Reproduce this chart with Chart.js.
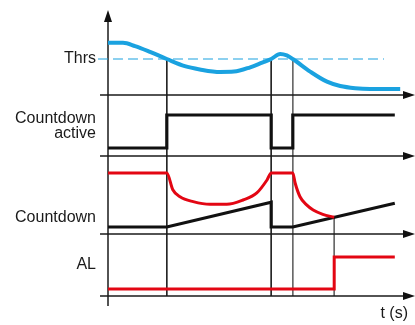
<!DOCTYPE html>
<html>
<head>
<meta charset="utf-8">
<script src="https://cdn.jsdelivr.net/npm/chart.js@4.4.0/dist/chart.umd.min.js"></script>
<style>
    html, body { margin: 0; padding: 0; background: #fff; }
    canvas { display: block; }
</style>
</head>
<body>
<canvas id="timingChart" width="415" height="325"></canvas>
<script>
// times (s)
const eventTimes = [9.8, 27.2, 30.8, 37.7];

const panelLabels = ['Thrs', ['Countdown', 'active'], 'Countdown', 'AL'];
const axisTitle = 't (s)';

// measured value, Thrs = 1
const signalTimes = [0, 2.5, 4.5, 7, 9.8, 12.8, 15.3, 18.7, 21, 23.7, 25.7, 27.2, 28.7, 29.8, 30.8, 33.7, 36.5, 38.7, 41.2, 43.7, 48.7];
const signalValues = [1.45, 1.45, 1.36, 1.2, 1.0, 0.8, 0.71, 0.64, 0.65, 0.77, 0.9, 1.0, 1.14, 1.1, 1.0, 0.65, 0.37, 0.25, 0.19, 0.17, 0.17];
const thresholdTimes = [-1.67, 46];
const thresholdValues = [1, 1];

const activeTimes = [0, 9.8, 9.8, 27.2, 27.2, 30.8, 30.8, 47.8];
const activeValues = [0, 0, 1, 1, 0, 0, 1, 1];

// countdown counter (black) and its limit (red)
const counterTimes = [0, 9.8, 27.2, 27.2, 30.8, 47.8];
const counterValues = [0, 0, 0.46, 0, 0, 0.44];
const limitTimes = [0, 9.8, 10.8, 12, 14.2, 17, 19.8, 22.5, 24.8, 26.5, 27.2, 30.8, 31.2, 32, 33.1, 34.2, 35.8, 37.7];
const limitValues = [1, 1, 0.69, 0.56, 0.47, 0.42, 0.42, 0.5, 0.63, 0.87, 1, 1, 0.81, 0.56, 0.41, 0.315, 0.235, 0.18];

const alarmTimes = [0, 37.7, 37.7, 47.8];
const alarmValues = [0, 0, 1, 1];

// layout of the four strips on the shared y scale
const panels = {
    signal: { axis: 23.0, lo: 23.0, hi: 26.6 },
    active: { axis: 16.9, lo: 17.7, hi: 21.0 },
    countdown: { axis: 9.1, lo: 9.8, hi: 15.2 },
    alarm: { axis: 2.9, lo: 3.6, hi: 6.8 }
};
const labelLevels = [26.6, 19.9, 10.7, 6.0];

const level = (panel, v) => panel.lo + v * (panel.hi - panel.lo);
const points = (ts, vs, panel) => ts.map((t, i) => ({ x: t, y: level(panel, vs[i]) }));

function arrowHead() {
    const c = document.createElement('canvas');
    c.width = 8;
    c.height = 12;
    const g = c.getContext('2d');
    g.fillStyle = '#111';
    g.beginPath();
    g.moveTo(4, 0);
    g.lineTo(8, 12);
    g.lineTo(0, 12);
    g.closePath();
    g.fill();
    return c;
}

document.addEventListener('DOMContentLoaded', function () {
    const ctx = document.getElementById('timingChart').getContext('2d');
    const arrow = arrowHead();

    const base = { fill: false, pointRadius: 0, clip: false, borderCapStyle: 'butt', borderJoinStyle: 'miter' };

    const datasets = [
        Object.assign({}, base, {
            data: points(signalTimes, signalValues, panels.signal),
            borderColor: '#1aa2e0', borderWidth: 4, cubicInterpolationMode: 'monotone', order: 1
        }),
        Object.assign({}, base, {
            data: points(thresholdTimes, thresholdValues, panels.signal),
            borderColor: '#1aa2e0', borderWidth: 1.2, borderDash: [10, 5], order: 2
        }),
        Object.assign({}, base, {
            data: points(activeTimes, activeValues, panels.active),
            borderColor: '#111', borderWidth: 3.2, order: 1
        }),
        Object.assign({}, base, {
            data: points(limitTimes, limitValues, panels.countdown),
            borderColor: '#e30613', borderWidth: 3, cubicInterpolationMode: 'monotone', order: 1
        }),
        Object.assign({}, base, {
            data: points(counterTimes, counterValues, panels.countdown),
            borderColor: '#111', borderWidth: 3.2, order: 1
        }),
        Object.assign({}, base, {
            data: points(alarmTimes, alarmValues, panels.alarm),
            borderColor: '#e30613', borderWidth: 3, order: 1
        })
    ];

    // guide lines at the events
    const guideTops = [panels.signal.hi, panels.signal.hi, panels.signal.hi,
        level(panels.countdown, limitValues[limitValues.length - 1])];
    const guideColors = ['#222', '#222', '#666', '#666'];
    eventTimes.forEach((t, i) => {
        datasets.push(Object.assign({}, base, {
            data: [{ x: t, y: guideTops[i] }, { x: t, y: panels.alarm.axis }],
            borderColor: guideColors[i], borderWidth: 1, order: 5
        }));
    });

    // time axes with arrows
    Object.values(panels).forEach(p => {
        datasets.push(Object.assign({}, base, {
            data: [{ x: -1.33, y: p.axis }, { x: 50.17, y: p.axis }],
            borderColor: '#1a1a1a', borderWidth: 1.5, order: 4,
            pointRadius: [0, 6], pointStyle: arrow, pointRotation: 90
        }));
    });
    datasets.push(Object.assign({}, base, {
        data: [{ x: 0, y: 1.9 }, { x: 0, y: 30.9 }],
        borderColor: '#1a1a1a', borderWidth: 1.5, order: 4,
        pointRadius: [0, 6], pointStyle: arrow, pointRotation: 0
    }));

    new Chart(ctx, {
        type: 'line',
        data: { datasets: datasets },
        options: {
            responsive: false,
            animation: false,
            events: [],
            layout: { autoPadding: false, padding: { left: 0, right: 7, top: 0, bottom: 0 } },
            plugins: { legend: { display: false }, tooltip: { enabled: false } },
            scales: {
                x: {
                    type: 'linear',
                    min: 0,
                    max: 50,
                    grid: { display: false },
                    border: { display: false },
                    ticks: { display: false },
                    title: {
                        display: true,
                        text: axisTitle,
                        align: 'end',
                        color: '#1a1a1a',
                        padding: { top: 0, bottom: 2 },
                        font: { family: '"Liberation Sans", Arial, sans-serif', size: 16 }
                    },
                    afterFit: function (scale) { scale.height = 25; }
                },
                y: {
                    type: 'linear',
                    min: 2.5,
                    max: 32.5,
                    bounds: 'data',
                    grid: { display: false, drawTicks: false },
                    border: { display: false },
                    afterBuildTicks: function (scale) {
                        scale.ticks = labelLevels.map(v => ({ value: v }));
                    },
                    ticks: {
                        autoSkip: false,
                        padding: 12,
                        color: '#1a1a1a',
                        font: { family: '"Liberation Sans", Arial, sans-serif', size: 16, lineHeight: 0.93 },
                        callback: function (value, index) { return panelLabels[index]; }
                    },
                    afterFit: function (scale) {
                        scale.width = 108;
                        scale.paddingTop = 0;
                        scale.paddingBottom = 0;
                    }
                }
            }
        }
    });
});
</script>
</body>
</html>
